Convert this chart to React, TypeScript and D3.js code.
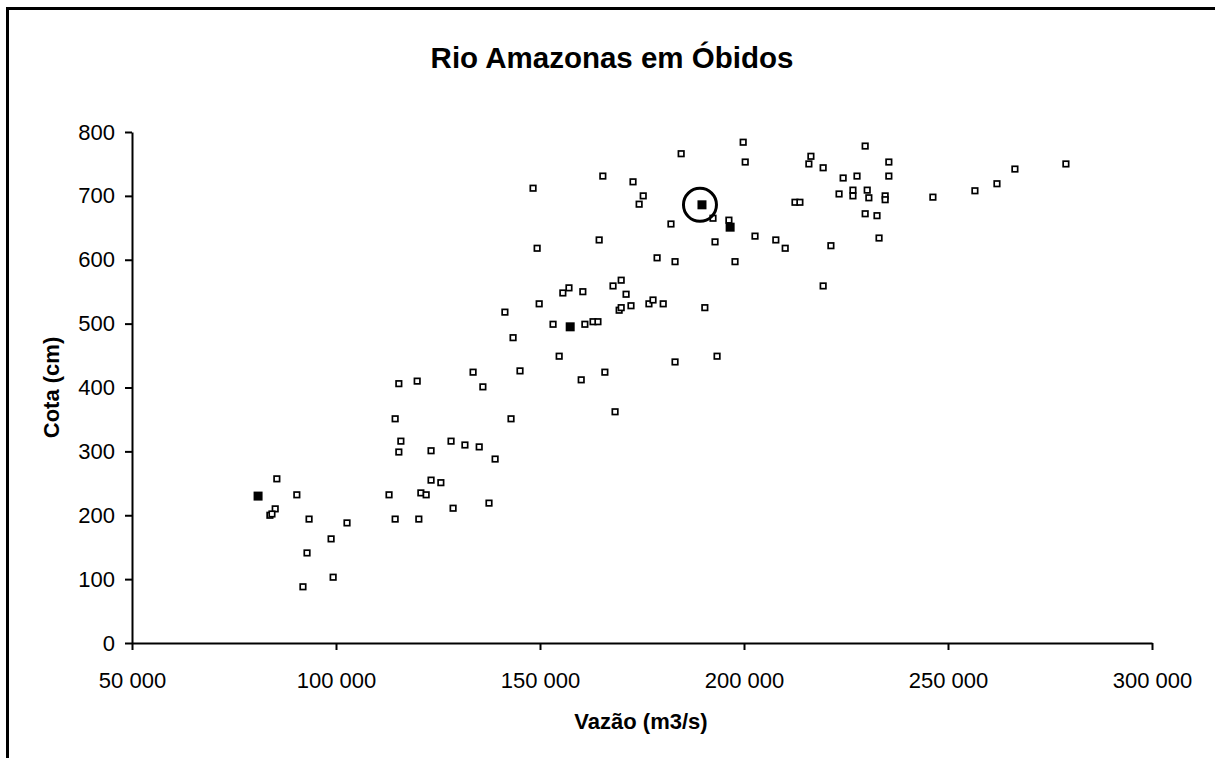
import React, { useEffect, useRef } from "react";
import * as d3 from "d3";

// Rio Amazonas em Óbidos: vazão (m3/s) x cota (cm)
const vazao = [
  85500, 90400, 85100, 83800, 84300, 93400, 102700, 98800, 92900, 99300, 91900,
  113000, 114500, 120300, 120800, 122100, 123300, 125700, 128700, 137500,
  114500, 115400, 115900, 123300, 128200, 131600, 135100, 139000, 142900,
  115400, 119900, 133600, 136000, 145100, 141400, 143400, 149800, 153200,
  154700, 155600, 157100, 160500, 161000, 163000, 164200, 160100, 165900,
  167900, 169900, 171100, 169400, 169900, 172300, 176700, 177700, 180200,
  183100, 190400, 193400, 168400, 148300, 149300, 164500, 165400, 172800,
  175300, 174300, 184600, 182100, 178700, 183100, 192400, 196300, 192900,
  197800, 202700, 207800, 199800, 200300, 229700, 216400, 215900, 219400,
  235500, 235500, 224300, 227700, 223300, 226700, 226700, 230200, 230600,
  234600, 234600, 212500, 213700, 246300, 256600, 262000, 266400, 278900,
  210100, 221300, 229700, 232600, 233100, 219400,
];
const cota = [
  257, 232, 210, 200, 202, 194, 188, 163, 141, 103, 88,
  232, 194, 194, 235, 232, 255, 251, 211, 219,
  351, 299, 316, 301, 316, 310, 307, 288, 351,
  406, 410, 424, 401, 426, 518, 478, 531, 499,
  449, 548, 556, 550, 499, 503, 503, 412, 424,
  559, 568, 546, 521, 525, 528, 531, 537, 531,
  440, 525, 449, 362, 712, 618, 631, 731, 722,
  700, 687, 766, 656, 603, 597, 665, 662, 628,
  597, 637, 631, 784, 753, 778, 762, 750, 744,
  753, 731, 728, 731, 703, 709, 700, 709, 697,
  700, 694, 690, 690, 698, 708, 719, 742, 750,
  618, 622, 672, 669, 634, 559,
];

// pontos marcados (quadrados cheios)
const vazaoMarcada = [80900, 157400, 189700, 196600];
const cotaMarcada = [230, 495, 686, 651];
const destaque = 2; // ponto circulado

const xTicks = [50000, 100000, 150000, 200000, 250000, 300000];
const yTicks = [0, 100, 200, 300, 400, 500, 600, 700, 800];

const W = 1215;
const H = 758;
const margin = { top: 132, right: 63, bottom: 115, left: 132 };
const font = "'Liberation Sans', Arial, sans-serif";

const locale = d3.formatLocale({
  decimal: ",",
  thousands: " ",
  grouping: [3],
  currency: ["", ""],
});
const fmt = locale.format(",");

export default function App() {
  const xAxisRef = useRef<SVGGElement>(null);
  const yAxisRef = useRef<SVGGElement>(null);

  const x = d3
    .scaleLinear()
    .domain([50000, 300000])
    .range([margin.left, W - margin.right]);
  const y = d3
    .scaleLinear()
    .domain([0, 800])
    .range([H - margin.bottom, margin.top]);

  useEffect(() => {
    const gx = d3.select(xAxisRef.current);
    gx.call(
      d3
        .axisBottom(x)
        .tickValues(xTicks)
        .tickSize(7)
        .tickSizeOuter(0)
        .tickPadding(22)
        .tickFormat((d) => fmt(+d))
    );
    const gy = d3.select(yAxisRef.current);
    gy.call(
      d3
        .axisLeft(y)
        .tickValues(yTicks)
        .tickSize(7)
        .tickSizeOuter(0)
        .tickPadding(10)
        .tickFormat((d) => String(d))
    );
    [gx, gy].forEach((g) => {
      g.select(".domain").attr("stroke", "#000").attr("stroke-width", 2);
      g.selectAll(".tick line").attr("stroke", "#000").attr("stroke-width", 2);
      g.selectAll(".tick text")
        .attr("fill", "#000")
        .style("font-family", font)
        .style("font-size", "22px");
      g.attr("font-family", null).attr("font-size", null);
    });
  }, []);

  const pts = vazao.map((v, i) => ({ v, c: cota[i] }));
  const marked = vazaoMarcada.map((v, i) => ({ v, c: cotaMarcada[i] }));

  return (
    <svg
      width={W}
      height={H}
      style={{ position: "absolute", left: 0, top: 0, background: "#fff" }}
    >
      <rect
        x={7.5}
        y={8.5}
        width={W + 100}
        height={H + 100}
        fill="#fff"
        stroke="#000"
        strokeWidth={3}
      />
      <text
        x={612}
        y={68}
        textAnchor="middle"
        fontFamily={font}
        fontSize={29.5}
        fontWeight="bold"
      >
        Rio Amazonas em Óbidos
      </text>
      <g ref={xAxisRef} transform={`translate(0,${H - margin.bottom})`} />
      <g ref={yAxisRef} transform={`translate(${margin.left},0)`} />
      <text
        x={641}
        y={729}
        textAnchor="middle"
        fontFamily={font}
        fontSize={22}
        fontWeight="bold"
      >
        Vazão (m3/s)
      </text>
      <text
        transform={`translate(59,${(margin.top + H - margin.bottom) / 2}) rotate(-90)`}
        textAnchor="middle"
        fontFamily={font}
        fontSize={22}
        fontWeight="bold"
      >
        Cota (cm)
      </text>
      <g>
        {pts.map((p, i) => (
          <rect
            key={i}
            x={x(p.v) - 2.75}
            y={y(p.c) - 2.75}
            width={5.5}
            height={5.5}
            fill="#fff"
            stroke="#000"
            strokeWidth={1.7}
          />
        ))}
      </g>
      <g>
        {marked.map((p, i) => (
          <rect
            key={i}
            x={x(p.v) - 4.5}
            y={y(p.c) - 4.5}
            width={9}
            height={9}
            fill="#000"
          />
        ))}
        <circle
          cx={x(marked[destaque].v) - 2}
          cy={y(marked[destaque].c)}
          r={16.5}
          fill="none"
          stroke="#000"
          strokeWidth={3}
        />
      </g>
    </svg>
  );
}
